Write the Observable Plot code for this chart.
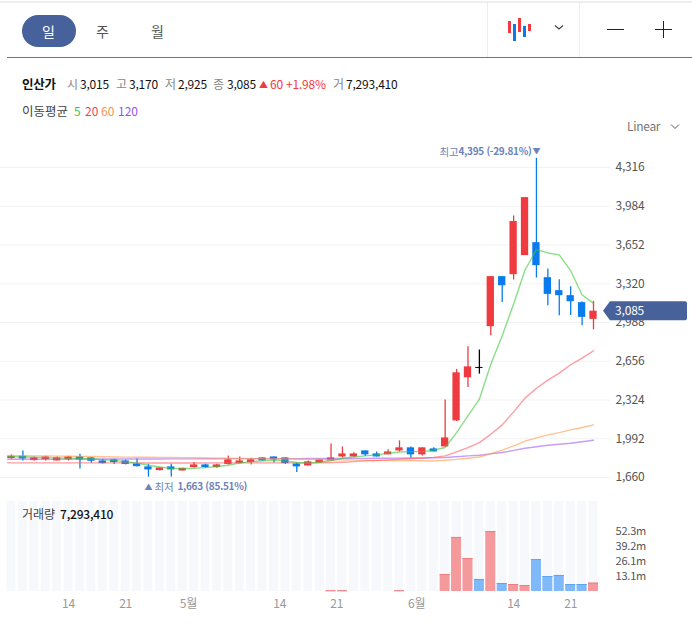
<!DOCTYPE html>
<html lang="ko"><head><meta charset="utf-8">
<script src="https://cdn.jsdelivr.net/npm/d3@7"></script>
<script src="https://cdn.jsdelivr.net/npm/@observablehq/plot@0.6"></script>
<style>
html,body{margin:0;padding:0;background:#fff;width:692px;height:640px;overflow:hidden;font-family:"Noto Sans CJK KR","Noto Sans",sans-serif}
#wrap{position:relative;width:692px;height:640px}
.a{position:absolute;white-space:nowrap;line-height:1}
.b{position:absolute}
#price,#volume{position:absolute;left:0}
#price{top:130px}#volume{top:495px}
svg{display:block;overflow:visible}
svg text{letter-spacing:-.2px}
.ann text{letter-spacing:-.3px}
.g{color:#888}.k{color:#111;letter-spacing:-.2px}
</style></head><body><div id="wrap">
<div class="b" style="left:0;top:1px;width:692px;height:2px;background:#eee"></div>
<div class="b" style="left:7px;top:57px;width:685px;height:1px;background:#70747a"></div>
<div class="b" style="left:487px;top:2px;width:1px;height:55px;background:#eee"></div>
<div class="b" style="left:579px;top:2px;width:1px;height:55px;background:#eee"></div>
<div class="b" style="left:22px;top:15px;width:54px;height:32px;border-radius:16px;background:#47619a"></div>
<div class="a" style="left:42px;top:24px;font-size:14px;color:#fff">일</div>
<div class="a" style="left:96px;top:24px;font-size:14px;color:#555">주</div>
<div class="a" style="left:151px;top:24px;font-size:14px;color:#555">월</div>
<div class="b" style="left:508px;top:21px;width:3px;height:12px;background:#ef3a3f"></div>
<div class="b" style="left:513px;top:24px;width:3px;height:17px;background:#0a7bef"></div>
<div class="b" style="left:518px;top:18px;width:3px;height:14px;background:#ef3a3f"></div>
<div class="b" style="left:523px;top:26px;width:3px;height:11px;background:#0a7bef"></div>
<div class="b" style="left:528px;top:24px;width:3px;height:7px;background:#ef3a3f"></div>
<svg class="b" style="left:554px;top:24px" width="10" height="8"><path d="M1 1.5L5 5L9 1.5" fill="none" stroke="#444" stroke-width="1.2"/></svg>
<div class="b" style="left:607px;top:29px;width:17px;height:1px;background:#222"></div>
<div class="b" style="left:655px;top:29px;width:17px;height:1px;background:#222"></div>
<div class="b" style="left:663px;top:21px;width:1px;height:17px;background:#222"></div>

<div class="a k" style="left:22px;top:78px;font-size:12.5px;font-weight:700">인산가</div>
<div class="a g" style="left:67px;top:78px;font-size:12px">시</div><div class="a k" style="left:80px;top:78px;font-size:12px">3,015</div>
<div class="a g" style="left:116px;top:78px;font-size:12px">고</div><div class="a k" style="left:129px;top:78px;font-size:12px">3,170</div>
<div class="a g" style="left:165px;top:78px;font-size:12px">저</div><div class="a k" style="left:178px;top:78px;font-size:12px">2,925</div>
<div class="a g" style="left:213px;top:78px;font-size:12px">종</div><div class="a k" style="left:227px;top:78px;font-size:12px">3,085</div>
<div class="a" style="left:259px;top:80px;font-size:9px;color:#ef3a3f">▲</div><div class="a" style="left:270px;top:78px;font-size:12px;color:#ef3a3f;letter-spacing:-.2px">60</div>
<div class="a" style="left:286px;top:78px;font-size:12px;color:#ef3a3f;letter-spacing:-.2px">+1.98%</div>
<div class="a g" style="left:333px;top:78px;font-size:12px">거</div><div class="a k" style="left:346px;top:78px;font-size:12px">7,293,410</div>

<div class="a" style="left:22px;top:105px;font-size:12.5px;color:#444">이동평균</div>
<div class="a" style="left:74px;top:105px;font-size:12px;color:#3cc83c">5</div>
<div class="a" style="left:85px;top:105px;font-size:12px;color:#f5415a">20</div>
<div class="a" style="left:101px;top:105px;font-size:12px;color:#f9934f">60</div>
<div class="a" style="left:118px;top:105px;font-size:12px;color:#9155f5">120</div>
<div class="a" style="left:627px;top:120px;font-size:12px;color:#777;letter-spacing:-.3px">Linear</div>
<svg class="b" style="left:670px;top:123px" width="10" height="8"><path d="M1 1.5L5 5.5L9 1.5" fill="none" stroke="#555" stroke-width="1"/></svg>

<div id="price"></div><div id="volume"></div>
<div class="a" style="left:22px;top:508px;font-size:12px;color:#444">거래량</div>
<div class="a k" style="left:60px;top:508px;font-size:12px;font-weight:500">7,293,410</div>
</div>
<script>
const opens  = [1822,1842,1805,1813,1802,1811,1836,1828,1802,1811,1802,1776,1751,1719,1751,1716,1745,1768,1745,1771,1779,1788,1828,1836,1828,1776,1759,1785,1802,1836,1836,1888,1862,1854,1888,1914,1854,1905,1922,2145,2514,2603,2952,3381,3398,3561,3672,3372,3261,3218,3158,3015];
const highs  = [1854,1888,1836,1842,1836,1842,1859,1831,1816,1816,1808,1819,1773,1742,1773,1739,1788,1773,1773,1845,1836,1825,1828,1836,1828,1785,1802,1811,1948,1922,1871,1888,1879,1897,1974,1922,1914,1914,2323,2586,2780,2752,3381,3381,3901,4058,4395,3447,3355,3295,3166,3170];
const lows   = [1816,1802,1802,1802,1802,1802,1733,1782,1776,1771,1768,1751,1663,1716,1665,1716,1742,1739,1739,1768,1776,1768,1799,1785,1771,1702,1759,1785,1802,1828,1831,1839,1836,1854,1879,1825,1845,1879,1922,2140,2431,2546,2875,3160,3352,3561,3369,3132,3046,3049,2960,2925];
const closes = [1842,1819,1828,1836,1828,1836,1811,1799,1779,1788,1771,1753,1725,1742,1725,1739,1768,1745,1768,1811,1802,1811,1802,1811,1779,1751,1794,1811,1828,1862,1862,1854,1836,1879,1914,1854,1914,1879,1999,2557,2608,2603,3381,3303,3853,4058,3475,3229,3218,3166,3032,3085];
const volumes = [.1,.1,.1,.1,.1,.1,.1,.1,.1,.1,.1,.1,.1,.1,.1,.1,.1,.1,.1,.1,.1,.1,.1,.1,.1,.1,.1,.1,.6,.6,.1,.1,.1,.1,.6,.1,.1,.1,14.8,47.2,28.8,10.5,52.4,7.0,6.1,5.2,27.9,13.1,14.0,6.1,6.1,7.29];
// Moving averages: first value is read at the plot's left edge, then one per session.
const ma5   = [1838,1838,1836,1833,1830,1828,1826,1825,1822,1813,1806,1796,1783,1765,1750,1739,1736,1739,1745,1754,1765,1785,1796,1802,1808,1802,1788,1782,1791,1805,1825,1836,1845,1854,1868,1879,1882,1882,1894,1917,2045,2188,2331,2631,2875,3146,3438,3612,3584,3567,3432,3226,3152];
const ma20  = [1785,1785,1785,1785,1785,1785,1785,1785,1785,1785,1785,1785,1784,1784,1784,1784,1784,1784,1784,1785,1785,1785,1785,1785,1785,1785,1785,1785,1786,1788,1791,1796,1802,1806,1811,1816,1821,1826,1832,1845,1880,1916,1959,2031,2111,2222,2340,2425,2494,2554,2626,2683,2746];
const ma60  = [1848,1847,1846,1845,1844,1843,1842,1841,1840,1838,1836,1835,1834,1833,1832,1831,1830,1829,1828,1826,1825,1823,1822,1821,1820,1818,1816,1815,1814,1812,1811,1810,1808,1807,1806,1805,1804,1803,1802,1808,1815,1825,1836,1865,1894,1931,1971,2000,2025,2045,2068,2088,2111];
const ma120 = [1816,1816,1816,1816,1816,1816,1817,1817,1817,1818,1818,1818,1819,1819,1819,1820,1820,1820,1821,1821,1822,1822,1822,1822,1822,1822,1822,1823,1823,1823,1823,1824,1824,1825,1825,1826,1827,1827,1828,1831,1838,1845,1851,1862,1874,1892,1911,1924,1936,1945,1954,1966,1979];
const maX = [-0.33, ...d3.range(52)];
const priceTicks = [1660,1992,2324,2656,2988,3320,3652,3984,4316];
const volTicks = [13.1,26.1,39.2,52.3];
const dateTicks = [5,10,15.5,23.5,28.5,35.5,44,49];
const dateLabels = ["14","21","5월","14","21","6월","14","21"];

const RED="#ef3a3f", BLUE="#0a7bef", FONT='"Noto Sans CJK KR","Noto Sans",sans-serif', NAVY="#47619a", ANN="#6c82b8";
const candles = opens.map((o,i)=>({i,o,h:highs[i],l:lows[i],c:closes[i],v:volumes[i],
  col: closes[i]===o ? "#000" : closes[i]>o ? RED : BLUE}));
const X = {type:"linear",domain:[0,51],range:[11,593]};
const maLine = (arr,stroke)=>Plot.line(arr,{x:(d,i)=>maX[i],y:d=>d,stroke,strokeWidth:1.4,strokeOpacity:.6});
const lastClose = closes[closes.length-1];
const tag = (index,{y})=>{
  const c=y(lastClose), p=d3.path();
  p.moveTo(603,c); p.lineTo(610,c-9.5); p.lineTo(685,c-9.5); p.quadraticCurveTo(687,c-9.5,687,c-7.5);
  p.lineTo(687,c+7.5); p.quadraticCurveTo(687,c+9.5,685,c+9.5); p.lineTo(610,c+9.5); p.closePath();
  return d3.create("svg:path").attr("d",p.toString()).attr("fill",NAVY).node();
};
const priceChart = Plot.plot({
  width:692,height:365,marginLeft:0,marginRight:82,marginTop:0,marginBottom:0,
  style:{fontFamily:FONT,fontSize:"12px",background:"transparent"},
  x:{...X,axis:null},
  y:{domain:[1660,4316],range:[347,37]},
  marks:[
    Plot.ruleY(priceTicks,{stroke:"#f2f2f2"}),
    Plot.axisY({anchor:"right",ticks:priceTicks,tickSize:0,tickPadding:5,tickFormat:d3.format(","),label:null,color:"#555",fontSize:12}),
    Plot.ruleX(candles,{x:"i",y1:"l",y2:"h",stroke:"col",strokeWidth:1.3}),
    Plot.rect(candles.filter(d=>d.c!==d.o),{x1:d=>d.i-.32,x2:d=>d.i+.32,y1:"o",y2:"c",fill:"col"}),
    Plot.ruleY(candles.filter(d=>d.c===d.o),{y:"c",x1:d=>d.i-.32,x2:d=>d.i+.32,stroke:"#000",strokeWidth:1}),
    maLine(ma120,"#a55bef"),maLine(ma60,"#ff9a45"),maLine(ma20,"#ff5a62"),maLine(ma5,"#3cc83c"),
    tag,
    Plot.text([lastClose],{x:()=>52.89,y:d=>d,text:d3.format(","),textAnchor:"start",fill:"#fff",fontSize:12}),
    Plot.text(["▼"],{x:()=>46,y:()=>4395,text:d=>d,dy:-7,fill:ANN,fontSize:8}),
    Plot.text(["4,395 (-29.81%)"],{x:()=>46,y:()=>4395,text:d=>d,dy:-6,dx:-5,textAnchor:"end",fill:ANN,fontWeight:700,fontSize:10,className:"ann"}),
    Plot.text(["최고"],{x:()=>46,y:()=>4395,text:d=>d,dy:-6,dx:-78,textAnchor:"end",fill:ANN,fontSize:10.5}),
    Plot.text(["▲"],{x:()=>12,y:()=>1663,text:d=>d,dy:10,fill:ANN,fontSize:8}),
    Plot.text(["최저"],{x:()=>12,y:()=>1663,text:d=>d,dy:10,dx:6,textAnchor:"start",fill:ANN,fontSize:10.5}),
    Plot.text(["1,663 (85.51%)"],{x:()=>12,y:()=>1663,text:d=>d,dy:10,dx:29,textAnchor:"start",fill:ANN,fontWeight:700,fontSize:10,className:"ann"})
  ]
});
document.getElementById("price").append(priceChart);

const volTop = 78.6;
const volumeChart = Plot.plot({
  width:692,height:125,marginLeft:0,marginRight:82,marginTop:6,marginBottom:29,
  style:{fontFamily:FONT,fontSize:"12px",background:"transparent"},
  x:{...X},
  y:{domain:[0,volTop],range:[96,6]},
  marks:[
    Plot.rect(candles,{x1:d=>d.i-.39,x2:d=>d.i+.39,y1:()=>0,y2:()=>volTop,fill:"#f7f8fc"}),
    Plot.rect(candles.filter(d=>d.v>=.4),{x1:d=>d.i-.44,x2:d=>d.i+.44,y1:()=>0,y2:"v",fill:d=>d.col===RED?"#f4999c":"#7fb9f9"}),
    Plot.ruleY(candles.filter(d=>d.v>=.4),{y:"v",x1:d=>d.i-.44,x2:d=>d.i+.44,stroke:d=>d.col===RED?"#ef7b80":"#5ca5f4"}),
    Plot.axisY({anchor:"right",ticks:volTicks,tickSize:0,tickPadding:5,tickFormat:d=>d+"m",label:null,color:"#555",fontSize:11}),
    Plot.axisX({anchor:"bottom",ticks:dateTicks,tickSize:0,tickPadding:8,tickFormat:d=>dateLabels[dateTicks.indexOf(d)],label:null,color:"#999",fontSize:12})
  ]
});
document.getElementById("volume").append(volumeChart);
</script></body></html>
